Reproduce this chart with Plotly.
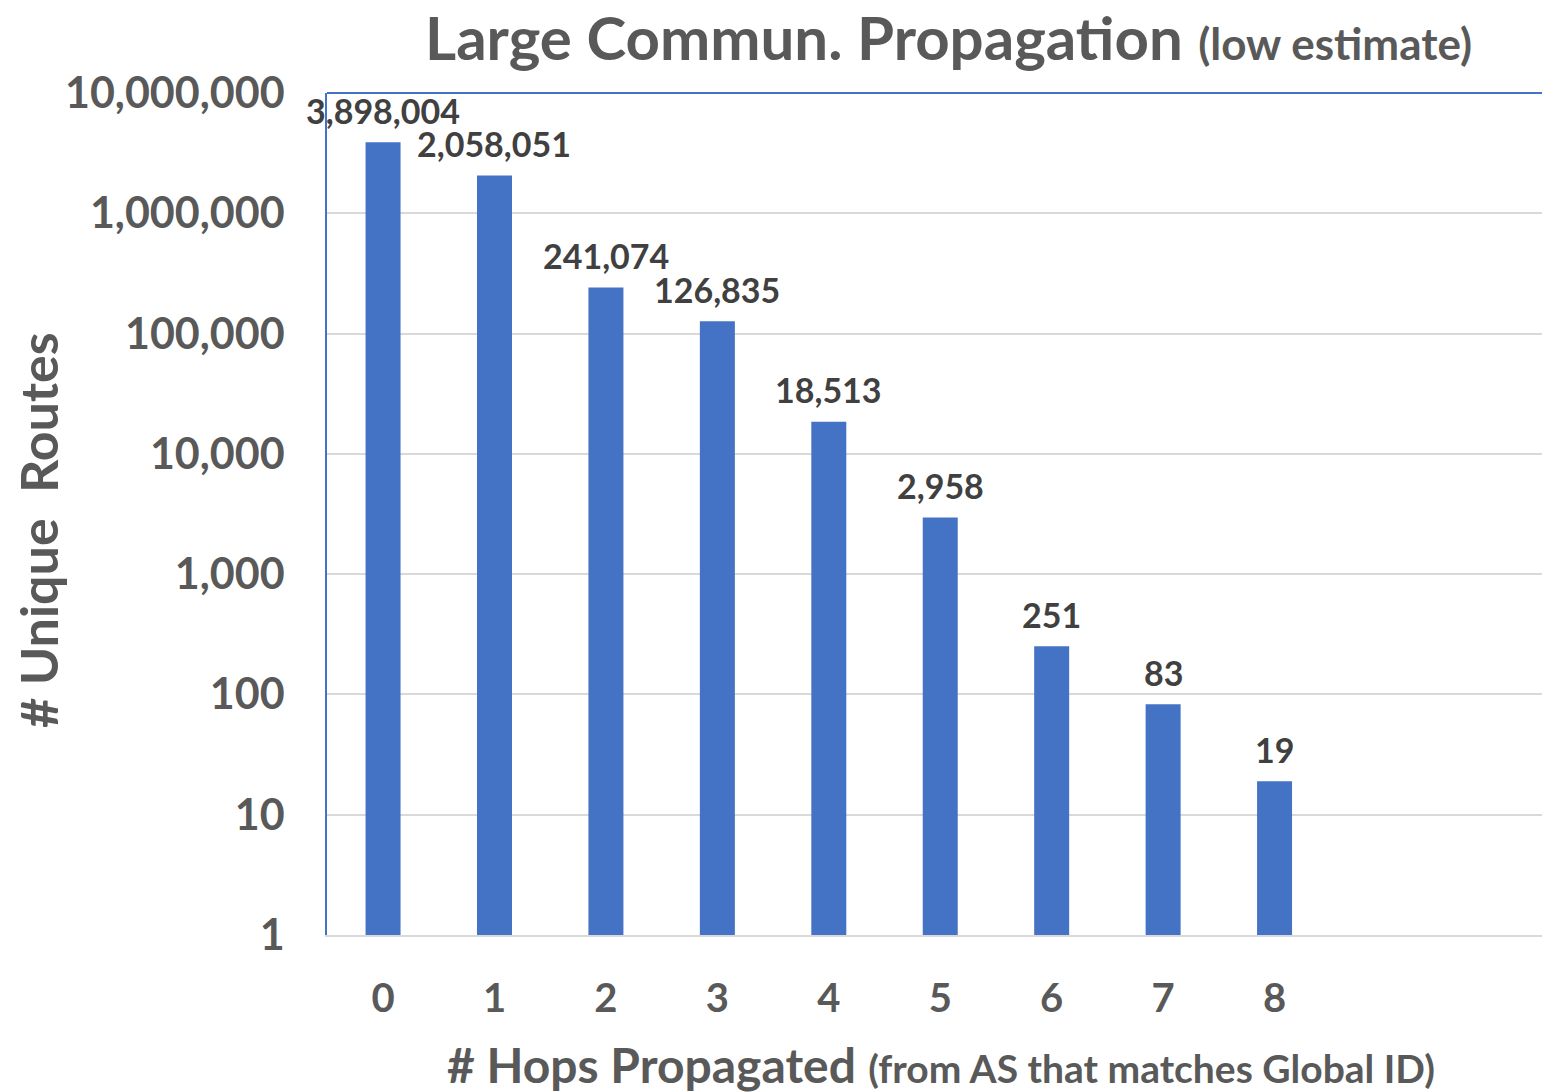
import math
import plotly.graph_objects as go

hops = [0, 1, 2, 3, 4, 5, 6, 7, 8]
routes = [3898004, 2058051, 241074, 126835, 18513, 2958, 251, 83, 19]
tick_vals_y = [1, 10, 100, 1000, 10000, 100000, 1000000, 10000000]
tick_text_y = ["1", "10", "100", "1,000", "10,000", "100,000", "1,000,000", "10,000,000"]

FONT = "Lato"
GRAY = "#595959"
DARK = "#404040"
BLUE = "#4472C4"

fig = go.Figure()
fig.add_trace(go.Bar(x=hops, y=routes, marker=dict(color=BLUE, line=dict(width=0)),
                     cliponaxis=False, hoverinfo="skip"))

for h, r in zip(hops, routes):
    fig.add_annotation(x=h, y=math.log10(r), text=f"<b>{r:,}</b>",
                       showarrow=False, yanchor="middle", xanchor="center", yshift=32,
                       font=dict(family=FONT, size=34, color=DARK))

L, T, R, B = 327, 93, 0, 157
W, H = 1542, 1092
pw, ph = W - L - R, H - T - B

def px_x(p):
    return (p - L) / pw

def px_y(p):
    return (H - B - p) / ph

fig.add_annotation(xref="paper", yref="paper", x=px_x(948), y=px_y(0),
                   text="<b>Large Commun. Propagation</b> <span style='font-size:44px'><b>(low estimate)</b></span>",
                   showarrow=False, xanchor="center", yanchor="top", borderpad=0,
                   font=dict(family=FONT, size=60, color=GRAY))
fig.add_annotation(xref="paper", yref="paper", x=px_x(941), y=px_y(1064),
                   text="<b># Hops Propagated</b> <span style='font-size:39px'><b>(from AS that matches Global ID)</b></span>",
                   showarrow=False, xanchor="center", yanchor="middle",
                   font=dict(family=FONT, size=48, color=GRAY))
fig.add_annotation(xref="paper", yref="paper", x=px_x(38), y=px_y(530),
                   text="<b># Unique  Routes</b>", textangle=-90,
                   showarrow=False, xanchor="center", yanchor="middle",
                   font=dict(family=FONT, size=52, color=GRAY))

fig.add_shape(type="line", xref="paper", yref="paper", x0=0, x1=1, y0=1, y1=1,
              line=dict(color=BLUE, width=2))

fig.update_layout(
    width=W, height=H,
    margin=dict(l=L, r=R, t=T, b=B),
    plot_bgcolor="white", paper_bgcolor="white",
    bargap=0.686,
    showlegend=False,
    xaxis=dict(range=[-0.503, 10.4], tickmode="array", tickvals=hops,
               ticktext=[f"<b>{h}</b>" for h in hops], showgrid=False, zeroline=False,
               showline=True, linecolor="#D9D9D9", linewidth=2, ticks="",
               ticklabelstandoff=27,
               tickfont=dict(family=FONT, size=40, color=GRAY)),
    yaxis=dict(type="log", range=[0, 7], tickmode="array", tickvals=tick_vals_y,
               ticktext=[f"<b>{t}</b>" for t in tick_text_y],
               showgrid=True, gridcolor="#D9D9D9", gridwidth=2, zeroline=False,
               showline=True, linecolor=BLUE, linewidth=1.5, ticks="",
               ticklabelstandoff=32,
               tickfont=dict(family=FONT, size=43, color=GRAY)),
)

fig.write_html("out.html", config={"displayModeBar": False},
               post_script="document.body.style.margin='0';document.body.style.overflow='hidden';")
